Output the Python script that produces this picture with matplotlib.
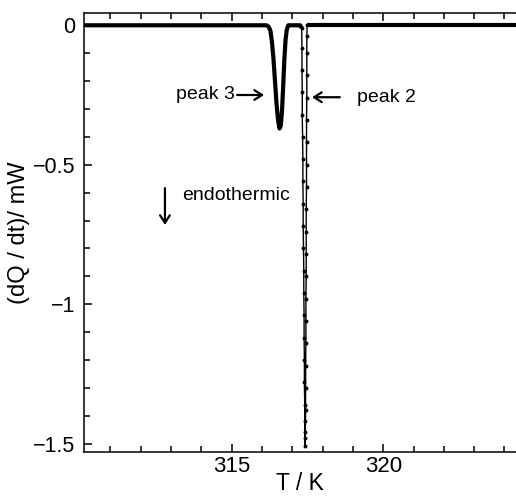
#!/usr/bin/env python3
"""DSC trace (heat flow vs temperature) with two endothermic peaks."""

import matplotlib
matplotlib.use("Agg")
import matplotlib.pyplot as plt
import matplotlib.ticker as ticker

# ---------------------------------------------------------------------------
# Data
# ---------------------------------------------------------------------------

# baseline + peak 3 + short plateau
T_left = [310.0, 312.0, 314.0, 315.5, 316.15, 316.22, 316.28, 316.33, 316.38,
          316.43, 316.48, 316.53, 316.58, 316.62, 316.66, 316.70, 316.74,
          316.78, 316.82, 316.87, 317.05, 317.26, 317.31]
dq_left = [0.0, 0.0, 0.0, 0.0, 0.0, -0.005, -0.02, -0.06, -0.12,
           -0.20, -0.28, -0.34, -0.37, -0.36, -0.31, -0.22, -0.12,
           -0.05, -0.015, 0.0, 0.0, 0.0, -0.01]

# peak 2 (sharp, individual points visible)
T_p2 = [317.31, 317.32, 317.32, 317.33, 317.33, 317.34, 317.35, 317.35,
        317.36, 317.36, 317.37, 317.38, 317.38, 317.39, 317.39, 317.40,
        317.40, 317.41, 317.41, 317.42, 317.43,
        317.43, 317.44, 317.44, 317.44, 317.45, 317.45, 317.45, 317.46,
        317.46, 317.46, 317.46, 317.47, 317.47, 317.47, 317.47, 317.48,
        317.48, 317.48, 317.48, 317.49]
dq_p2 = [-0.01, -0.08, -0.16, -0.24, -0.32, -0.40, -0.48, -0.56,
         -0.64, -0.72, -0.80, -0.88, -0.96, -1.04, -1.12, -1.20,
         -1.28, -1.36, -1.42, -1.48, -1.51,
         -1.46, -1.38, -1.30, -1.22, -1.14, -1.06, -0.98, -0.90,
         -0.82, -0.74, -0.66, -0.58, -0.50, -0.42, -0.34, -0.26,
         -0.18, -0.10, -0.04, 0.0]

# baseline after peak 2
T_right = [317.49, 318.0, 320.0, 322.0, 324.5]
dq_right = [0.0, 0.0, 0.0, 0.0, 0.0]

x_ticks = [315, 320]
y_ticks = [0, -0.5, -1, -1.5]
y_ticklabels = ["0", "\u22120.5", "\u22121", "\u22121.5"]


def main() -> None:
    plt.rcParams["font.family"] = ["Liberation Sans", "DejaVu Sans"]

    fig = plt.figure(figsize=(5.16, 4.96), dpi=100)
    ax = fig.add_axes([84 / 516, 44 / 496, 432 / 516, 439 / 496])

    ax.plot(T_left, dq_left, color="black", lw=3.0, solid_capstyle="butt",
            solid_joinstyle="round")
    ax.plot(T_p2, dq_p2, color="black", lw=1.0, marker="o", ms=1.8)
    ax.plot(T_right, dq_right, color="black", lw=3.0, solid_capstyle="butt")

    ax.set_xlim(310.13, 324.38)
    ax.set_ylim(-1.53, 0.044)

    ax.set_xticks(x_ticks)
    ax.set_yticks(y_ticks)
    ax.set_yticklabels(y_ticklabels)
    ax.xaxis.set_minor_locator(ticker.MultipleLocator(1))
    ax.yaxis.set_minor_locator(ticker.MultipleLocator(0.1))
    ax.tick_params(which="both", direction="in", top=True, right=False,
                   width=1.1)
    ax.tick_params(axis="x", labelsize=16, pad=3)
    ax.tick_params(axis="y", labelsize=15.5, pad=6)
    ax.tick_params(which="major", length=6)
    ax.tick_params(which="minor", length=4)

    ax.spines["right"].set_visible(False)
    for s in ("left", "top", "bottom"):
        ax.spines[s].set_linewidth(1.1)

    ax.set_xlabel("T / K", fontsize=16.5, labelpad=-4)
    ax.set_ylabel("(dQ / dt)/ mW", fontsize=17, labelpad=2)

    arrow = dict(arrowstyle="->,head_length=0.55,head_width=0.35", lw=1.6,
                 color="black", shrinkA=0, shrinkB=0)
    ax.annotate("", xy=(316.07, -0.25), xytext=(315.18, -0.25), arrowprops=arrow)
    ax.text(315.12, -0.25, "peak 3", ha="right", va="center", fontsize=14)

    ax.annotate("", xy=(317.65, -0.258), xytext=(318.57, -0.258), arrowprops=arrow)
    ax.text(319.13, -0.258, "peak 2", ha="left", va="center", fontsize=14)

    ax.annotate("", xy=(312.80, -0.716), xytext=(312.80, -0.584), arrowprops=arrow)
    ax.text(313.36, -0.609, "endothermic", ha="left", va="center", fontsize=14)

    fig.savefig("out.png", dpi=100)
    plt.close(fig)


if __name__ == "__main__":
    main()
